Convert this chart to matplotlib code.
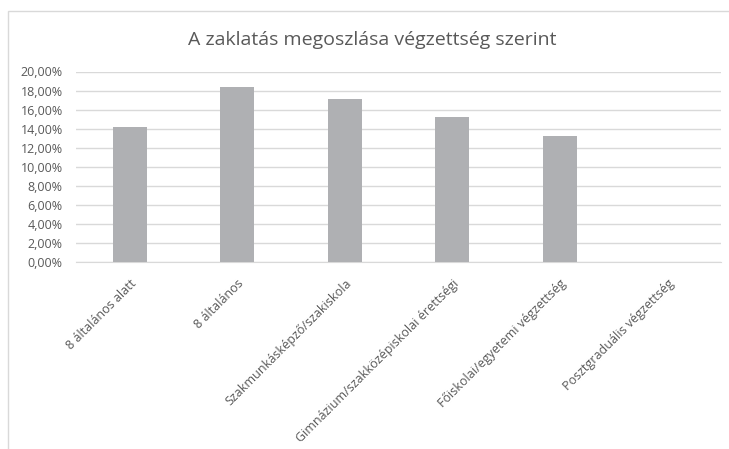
import matplotlib
matplotlib.use("Agg")
import matplotlib.pyplot as plt
from matplotlib.patches import Rectangle
from matplotlib.ticker import FuncFormatter

categories = ["8 általános alatt", "8 általános", "Szakmunkásképző/szakiskola",
              "Gimnázium/szakközépiskolai érettségi", "Főiskolai/egyetemi végzettség",
              "Posztgraduális végzettség"]
values = [0.1414, 0.1838, 0.1708, 0.1519, 0.1319, 0.0]
yticks = [i * 0.02 for i in range(11)]
title = "A zaklatás megoszlása végzettség szerint"

plt.rcParams['font.family'] = ['Open Sans', 'DejaVu Sans']
fig = plt.figure(figsize=(7.29, 4.49), dpi=100)
fig.patches.append(Rectangle((8/729, -0.1), 1.0, 1 - 11/449 + 0.1, transform=fig.transFigure,
                             fill=False, edgecolor='#d9d9d9', linewidth=1.0))
ax = fig.add_axes([76/729, 1 - 262/449, (721 - 76)/729, (262 - 71.5)/449])
x = list(range(len(categories)))
ax.bar(x, values, width=0.316, color='#afb0b3', zorder=3)
ax.set_xlim(-0.5, len(categories) - 0.5)
ax.set_ylim(0, 0.2)
ax.set_yticks(yticks)
ax.yaxis.set_major_formatter(FuncFormatter(lambda v, p: f"{v*100:.2f}%".replace('.', ',')))
ax.grid(axis='y', color='#d9d9d9', linewidth=1.0, zorder=0)
for s in ['top', 'right', 'left']:
    ax.spines[s].set_visible(False)
ax.spines['bottom'].set_color('#d9d9d9')
ax.tick_params(axis='both', length=0, colors='#595959', labelsize=9)
ax.tick_params(axis='y', pad=9.5)
ax.set_xticks(x)
ax.set_xticklabels(categories, rotation=45, ha='right', va='top', rotation_mode='anchor')
ax.tick_params(axis='x', pad=11)
fig.text(372/729, 1 - 40/449, title, ha='center', va='center', fontsize=14, color='#595959')
fig.savefig("out.png", dpi=100)
